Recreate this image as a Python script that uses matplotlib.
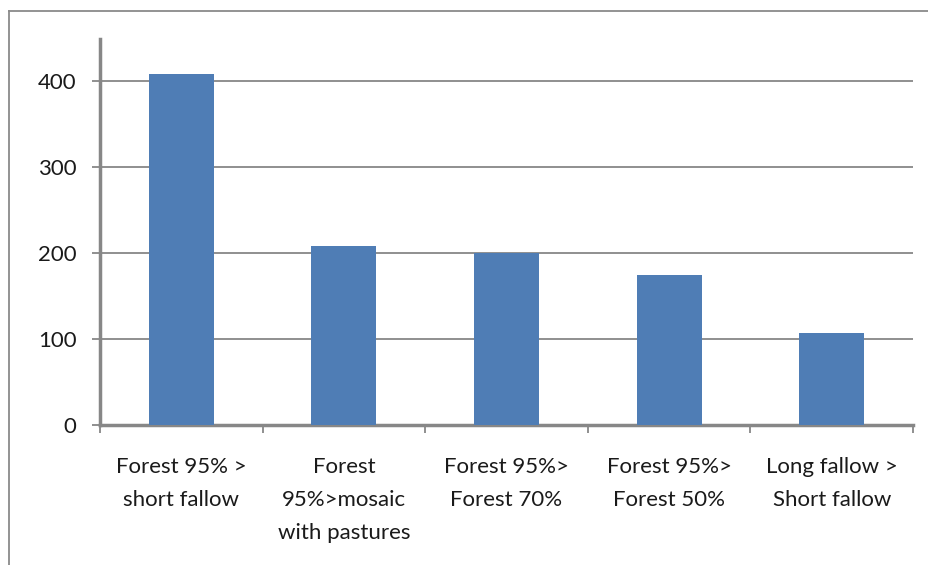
import matplotlib
matplotlib.use("Agg")
import matplotlib.pyplot as plt
from matplotlib.lines import Line2D

categories = ["Forest 95% >\nshort fallow", "Forest\n95%>mosaic\nwith pastures",
              "Forest 95%>\nForest 70%", "Forest 95%>\nForest 50%",
              "Long fallow >\nShort fallow"]
values = [408, 208, 200, 174, 107]
yticks = [0, 100, 200, 300, 400]

W, H = 929, 565
fig = plt.figure(figsize=(W/100, H/100), dpi=100)
plt.rcParams['font.family'] = ['Lato', 'DejaVu Sans']

x0, x1 = 100, 913
ytop, ybot = 39, 425
ax = fig.add_axes([x0/W, 1 - ybot/H, (x1-x0)/W, (ybot-ytop)/H])

gray = "#878787"
n = len(categories)
pos = list(range(n))
ax.bar(pos, values, width=0.4, color="#4f7db5", zorder=3)
ax.set_xlim(-0.5, n - 0.5)
ax.set_ylim(0, 449)
ax.set_yticks(yticks)
ax.set_yticklabels([str(v) for v in yticks], fontsize=16, color="#1a1a1a")
ax.yaxis.grid(True, color=gray, linewidth=1.3, zorder=0)
ax.set_xticks([p - 0.5 for p in range(n + 1)])
ax.set_xticklabels([])
ax.set_xticks(pos, minor=True)
ax.set_xticklabels(categories, minor=True, fontsize=16, color="#1a1a1a", linespacing=1.8)
ax.tick_params(axis='x', which='minor', length=0, pad=23)
ax.tick_params(axis='x', which='major', length=5.8, width=1.3, color=gray, direction='out')
ax.tick_params(axis='y', length=5.8, width=1.3, color=gray, pad=11)
for s in ['top', 'right']:
    ax.spines[s].set_visible(False)
for s in ['left', 'bottom']:
    ax.spines[s].set_color(gray)
    ax.spines[s].set_linewidth(2.5)
ax.set_axisbelow(True)

# outer chart border
fig.add_artist(Line2D([9/W, 9/W], [0, 1 - 11/H], transform=fig.transFigure, color="#8a8a8a", linewidth=1.3))
fig.add_artist(Line2D([9/W, 1], [1 - 11/H, 1 - 11/H], transform=fig.transFigure, color="#8a8a8a", linewidth=1.3))

fig.savefig("out.png", dpi=100)
